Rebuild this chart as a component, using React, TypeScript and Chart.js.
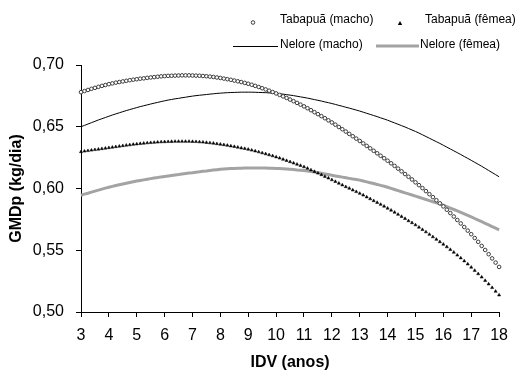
import React, { useEffect, useRef } from "react";
import { Chart, registerables } from "chart.js";
Chart.register(...registerables);

const FONT = "'Liberation Sans', Arial, Helvetica, sans-serif";

const ages = [
  3, 3.125, 3.25, 3.375, 3.5, 3.625, 3.75, 3.875,
  4, 4.125, 4.25, 4.375, 4.5, 4.625, 4.75, 4.875,
  5, 5.125, 5.25, 5.375, 5.5, 5.625, 5.75, 5.875,
  6, 6.125, 6.25, 6.375, 6.5, 6.625, 6.75, 6.875,
  7, 7.125, 7.25, 7.375, 7.5, 7.625, 7.75, 7.875,
  8, 8.125, 8.25, 8.375, 8.5, 8.625, 8.75, 8.875,
  9, 9.125, 9.25, 9.375, 9.5, 9.625, 9.75, 9.875,
  10, 10.125, 10.25, 10.375, 10.5, 10.625, 10.75, 10.875,
  11, 11.125, 11.25, 11.375, 11.5, 11.625, 11.75, 11.875,
  12, 12.125, 12.25, 12.375, 12.5, 12.625, 12.75, 12.875,
  13, 13.125, 13.25, 13.375, 13.5, 13.625, 13.75, 13.875,
  14, 14.125, 14.25, 14.375, 14.5, 14.625, 14.75, 14.875,
  15, 15.125, 15.25, 15.375, 15.5, 15.625, 15.75, 15.875,
  16, 16.125, 16.25, 16.375, 16.5, 16.625, 16.75, 16.875,
  17, 17.125, 17.25, 17.375, 17.5, 17.625, 17.75, 17.875,
  18,
];

const tabapuaMacho = [
  0.678, 0.6789, 0.6798, 0.6807, 0.6815, 0.6823, 0.6831, 0.6838,
  0.6845, 0.6851, 0.6857, 0.6862, 0.6867, 0.6872, 0.6877, 0.6881,
  0.6885, 0.6889, 0.6892, 0.6896, 0.6899, 0.6902, 0.6905, 0.6908,
  0.691, 0.6912, 0.6913, 0.6914, 0.6915, 0.6916, 0.6916, 0.6916,
  0.6915, 0.6914, 0.6913, 0.6911, 0.6909, 0.6906, 0.6903, 0.6899,
  0.6895, 0.689, 0.6885, 0.688, 0.6874, 0.6868, 0.6862, 0.6855,
  0.6848, 0.684, 0.6831, 0.6822, 0.6812, 0.6802, 0.6792, 0.6781,
  0.677, 0.6758, 0.6746, 0.6733, 0.672, 0.6707, 0.6693, 0.6679,
  0.6665, 0.665, 0.6634, 0.6618, 0.6602, 0.6586, 0.6569, 0.6552,
  0.6535, 0.6517, 0.6498, 0.648, 0.6461, 0.6442, 0.6423, 0.6404,
  0.6385, 0.6365, 0.6345, 0.6325, 0.6305, 0.6285, 0.6265, 0.6245,
  0.6225, 0.6204, 0.6183, 0.6161, 0.6139, 0.6117, 0.6095, 0.6073,
  0.605, 0.6027, 0.6003, 0.5979, 0.5954, 0.593, 0.5905, 0.588,
  0.5855, 0.5828, 0.5801, 0.5773, 0.5745, 0.5717, 0.5688, 0.5659,
  0.563, 0.5599, 0.5568, 0.5535, 0.5502, 0.5468, 0.5434, 0.54,
  0.5365,
];

const tabapuaFemea = [
  0.6297, 0.6302, 0.6306, 0.631, 0.6314, 0.6318, 0.6322, 0.6326,
  0.633, 0.6334, 0.6338, 0.6342, 0.6346, 0.635, 0.6353, 0.6357,
  0.636, 0.6363, 0.6366, 0.6369, 0.6371, 0.6373, 0.6375, 0.6377,
  0.6378, 0.6379, 0.638, 0.6381, 0.6381, 0.6381, 0.6381, 0.6381,
  0.638, 0.6379, 0.6377, 0.6375, 0.6372, 0.6369, 0.6366, 0.6362,
  0.6358, 0.6354, 0.6349, 0.6344, 0.6339, 0.6334, 0.6328, 0.6323,
  0.6317, 0.631, 0.6303, 0.6296, 0.6288, 0.628, 0.6272, 0.6264,
  0.6255, 0.6246, 0.6236, 0.6226, 0.6216, 0.6206, 0.6196, 0.6186,
  0.6175, 0.6163, 0.615, 0.6137, 0.6124, 0.6111, 0.6097, 0.6084,
  0.607, 0.6056, 0.6042, 0.6028, 0.6014, 0.6001, 0.5987, 0.5974,
  0.596, 0.5946, 0.5931, 0.5916, 0.5901, 0.5886, 0.5871, 0.5856,
  0.584, 0.5824, 0.5807, 0.579, 0.5773, 0.5756, 0.5738, 0.5722,
  0.5705, 0.5686, 0.5667, 0.5648, 0.5628, 0.5608, 0.5588, 0.5568,
  0.5548, 0.5527, 0.5505, 0.5483, 0.546, 0.5437, 0.5413, 0.5388,
  0.5362, 0.5336, 0.5309, 0.5282, 0.5254, 0.5226, 0.5197, 0.5167,
  0.5137,
];

const neloreMacho = [
  0.65, 0.6511, 0.6522, 0.6533, 0.6544, 0.6555, 0.6565, 0.6575,
  0.6585, 0.6595, 0.6604, 0.6613, 0.6622, 0.6631, 0.6639, 0.6647,
  0.6655, 0.6663, 0.667, 0.6677, 0.6684, 0.6691, 0.6697, 0.6704,
  0.671, 0.6716, 0.6721, 0.6726, 0.673, 0.6735, 0.6739, 0.6744,
  0.6748, 0.6752, 0.6755, 0.6758, 0.6761, 0.6764, 0.6767, 0.677,
  0.6772, 0.6774, 0.6776, 0.6777, 0.6778, 0.6779, 0.678, 0.678,
  0.678, 0.678, 0.6779, 0.6778, 0.6777, 0.6776, 0.6774, 0.6772,
  0.677, 0.6767, 0.6764, 0.676, 0.6756, 0.6752, 0.6747, 0.6742,
  0.6737, 0.6732, 0.6726, 0.672, 0.6714, 0.6708, 0.6701, 0.6695,
  0.6688, 0.6681, 0.6673, 0.6666, 0.6658, 0.6651, 0.6643, 0.6635,
  0.6627, 0.6618, 0.6609, 0.66, 0.6591, 0.6582, 0.6572, 0.6563,
  0.6553, 0.6542, 0.6531, 0.652, 0.6509, 0.6498, 0.6486, 0.6474,
  0.6462, 0.6449, 0.6435, 0.6421, 0.6407, 0.6393, 0.6379, 0.6365,
  0.635, 0.6335, 0.632, 0.6305, 0.629, 0.6275, 0.6259, 0.6244,
  0.6228, 0.6212, 0.6196, 0.618, 0.6163, 0.6146, 0.6129, 0.6112,
  0.6095,
];

const neloreFemea = [
  0.5945, 0.5954, 0.5962, 0.5971, 0.5979, 0.5987, 0.5995, 0.6003,
  0.601, 0.6017, 0.6024, 0.6031, 0.6037, 0.6043, 0.6049, 0.6055,
  0.606, 0.6065, 0.607, 0.6075, 0.608, 0.6085, 0.6089, 0.6094,
  0.6098, 0.6102, 0.6106, 0.611, 0.6113, 0.6117, 0.6121, 0.6125,
  0.6128, 0.6132, 0.6135, 0.6139, 0.6142, 0.6146, 0.6149, 0.6152,
  0.6155, 0.6157, 0.6159, 0.6161, 0.6162, 0.6163, 0.6164, 0.6165,
  0.6165, 0.6165, 0.6165, 0.6165, 0.6165, 0.6165, 0.6164, 0.6163,
  0.6162, 0.6161, 0.6159, 0.6157, 0.6155, 0.6153, 0.615, 0.6148,
  0.6145, 0.6141, 0.6137, 0.6133, 0.6128, 0.6123, 0.6118, 0.6113,
  0.6107, 0.6102, 0.6097, 0.6092, 0.6087, 0.6082, 0.6077, 0.6073,
  0.6068, 0.6061, 0.6054, 0.6047, 0.604, 0.6033, 0.6025, 0.6018,
  0.601, 0.6001, 0.5992, 0.5983, 0.5974, 0.5965, 0.5956, 0.5947,
  0.5938, 0.5929, 0.592, 0.5911, 0.5902, 0.5893, 0.5884, 0.5875,
  0.5865, 0.5854, 0.5842, 0.583, 0.5818, 0.5806, 0.5794, 0.5782,
  0.577, 0.5757, 0.5744, 0.5731, 0.5718, 0.5705, 0.5692, 0.5679,
  0.5665,
];

const seriesLabels = ["Tabapuã (macho)", "Tabapuã (fêmea)", "Nelore (macho)", "Nelore (fêmea)"];
const xTicks = [3, 18, 1];
const yTicks = [0.5, 0.7, 0.05];

const toPts = (vals: number[]) => ages.map((a, i) => ({ x: a, y: vals[i] }));

export default function App() {
  const ref = useRef<HTMLCanvasElement>(null);

  useEffect(() => {
    if (!ref.current) return;

    const legendPlugin = {
      id: "customLegend",
      afterDraw(chart: any) {
        const ctx = chart.ctx;
        const ds = chart.data.datasets;
        ctx.save();
        ctx.font = `12px ${FONT}`;
        ctx.fillStyle = "#000";
        ctx.textBaseline = "middle";
        ctx.textAlign = "left";
        // Tabapuã (macho): hollow circle
        ctx.beginPath();
        ctx.arc(253, 22.5, 1.8, 0, Math.PI * 2);
        ctx.strokeStyle = ds[0].borderColor;
        ctx.lineWidth = 1;
        ctx.stroke();
        ctx.fillText(ds[0].label, 280, 20);
        // Tabapuã (fêmea): triangle
        ctx.beginPath();
        ctx.moveTo(400, 21);
        ctx.lineTo(402.2, 25);
        ctx.lineTo(397.8, 25);
        ctx.closePath();
        ctx.fillStyle = ds[1].backgroundColor;
        ctx.fill();
        ctx.fillStyle = "#000";
        ctx.fillText(ds[1].label, 425, 20);
        // Nelore (macho): black line
        ctx.beginPath();
        ctx.moveTo(233, 46.5);
        ctx.lineTo(278, 46.5);
        ctx.strokeStyle = ds[2].borderColor;
        ctx.lineWidth = 1;
        ctx.stroke();
        ctx.fillText(ds[2].label, 280, 44.5);
        // Nelore (fêmea): thick gray line
        ctx.beginPath();
        ctx.moveTo(376, 46);
        ctx.lineTo(419, 46);
        ctx.strokeStyle = ds[3].borderColor;
        ctx.lineWidth = 3;
        ctx.stroke();
        ctx.fillText(ds[3].label, 420, 44.5);
        ctx.restore();
      },
    };

    const chart = new Chart(ref.current, {
      type: "line",
      data: {
        datasets: [
          {
            label: seriesLabels[0],
            data: toPts(tabapuaMacho),
            showLine: false,
            pointStyle: "circle",
            pointRadius: 1.8,
            pointBorderWidth: 1,
            borderColor: "#3a3a3a",
            pointBorderColor: "#3a3a3a",
            backgroundColor: "#ffffff",
            pointBackgroundColor: "#ffffff",
            clip: false,
          },
          {
            label: seriesLabels[1],
            data: toPts(tabapuaFemea),
            showLine: false,
            pointStyle: "triangle",
            pointRadius: 1.8,
            pointBorderWidth: 0.5,
            borderColor: "#000000",
            pointBorderColor: "#000000",
            backgroundColor: "#000000",
            pointBackgroundColor: "#000000",
            clip: false,
          },
          {
            label: seriesLabels[2],
            data: toPts(neloreMacho),
            borderColor: "#000000",
            borderWidth: 1,
            pointRadius: 0,
            tension: 0,
            fill: false,
            clip: false,
          },
          {
            label: seriesLabels[3],
            data: toPts(neloreFemea),
            borderColor: "#a3a3a3",
            borderWidth: 3,
            pointRadius: 0,
            tension: 0,
            fill: false,
            clip: false,
          },
        ],
      },
      options: {
        animation: false,
        responsive: false,
        events: [],
        layout: { padding: { top: 65, right: 16, left: 0, bottom: 0 } },
        plugins: {
          legend: { display: false },
          tooltip: { enabled: false },
        },
        scales: {
          x: {
            type: "linear",
            min: xTicks[0],
            max: xTicks[1],
            afterFit(s: any) {
              s.height = 60;
            },
            ticks: {
              stepSize: xTicks[2],
              color: "#000",
              font: { family: FONT, size: 16 },
              padding: 9,
              maxRotation: 0,
              autoSkip: false,
            },
            grid: {
              display: true,
              drawOnChartArea: false,
              drawTicks: true,
              tickLength: 5,
              color: "#000",
            },
            border: { display: true, color: "#000", width: 1 },
            title: {
              display: true,
              text: "IDV (anos)",
              color: "#000",
              font: { family: FONT, size: 16, weight: "bold" },
              padding: { top: 0, bottom: 0 },
            },
          },
          y: {
            type: "linear",
            min: yTicks[0],
            max: yTicks[1],
            afterFit(s: any) {
              s.width = 81;
            },
            ticks: {
              stepSize: yTicks[2],
              color: "#000",
              font: { family: FONT, size: 16 },
              padding: 12,
              callback: (v: any) => Number(v).toFixed(2).replace(".", ","),
            },
            grid: {
              display: true,
              drawOnChartArea: false,
              drawTicks: true,
              tickLength: 5,
              color: "#000",
            },
            border: { display: true, color: "#000", width: 1 },
            title: {
              display: true,
              text: "GMDp (kg/dia)",
              color: "#000",
              font: { family: FONT, size: 16, weight: "bold" },
              padding: { top: 7, bottom: 0 },
            },
          },
        },
      },
      plugins: [legendPlugin],
    } as any);

    return () => chart.destroy();
  }, []);

  return (
    <div style={{ position: "fixed", left: 0, top: 0, width: 517, height: 372, background: "#fff" }}>
      <canvas ref={ref} width={517} height={372} style={{ display: "block" }} />
    </div>
  );
}
